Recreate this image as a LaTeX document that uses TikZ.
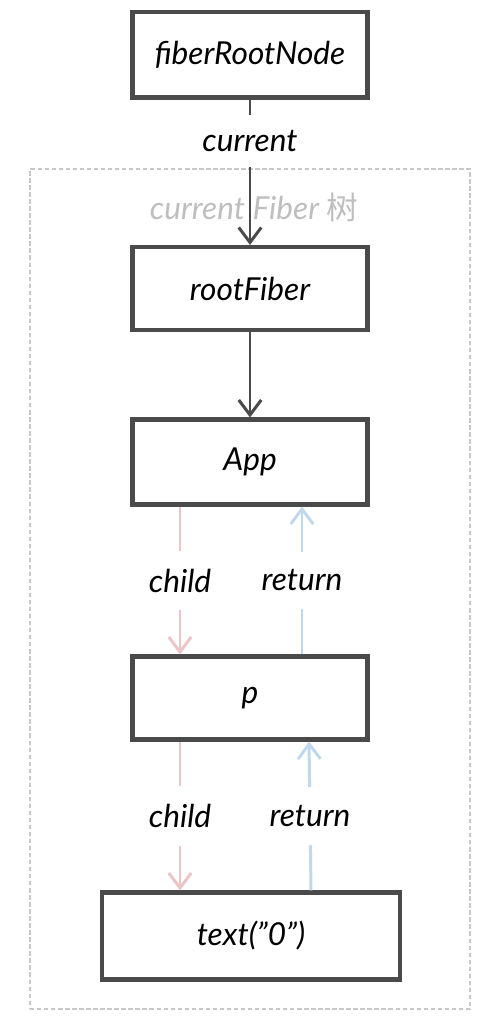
\documentclass[tikz,border=0pt]{standalone}
\usepackage{fontspec}
\setmainfont{Lato}
\newfontfamily\cjkfont{Noto Sans CJK SC}
\usetikzlibrary{positioning,arrows.meta,backgrounds}
\definecolor{cLine}{RGB}{74,74,74}
\definecolor{cFrame}{RGB}{200,200,200}
\definecolor{cLabel}{RGB}{190,190,190}
\definecolor{eChild}{RGB}{236,198,198}
\definecolor{eReturn}{RGB}{192,216,238}
\tikzset{
  fnode/.style  ={draw=cLine,line width=2.3pt,fill=white,align=center,
                  font=\fontsize{18}{21}\selectfont\itshape,
                  minimum width=47mm,minimum height=17mm,inner sep=2pt},
  container/.style={draw=cFrame,dashed,dash pattern=on 2.5pt off 1.5pt,
                  line width=1.2pt,minimum width=88mm,minimum height=168mm},
  ptr/.style    ={-{Straight Barb[length=3mm,width=4.5mm]},draw=cLine,line width=1.7pt},
  ptrchild/.style ={-{Straight Barb[length=3mm,width=4.5mm]},draw=eChild,line width=1.7pt},
  ptrreturn/.style={-{Straight Barb[length=3mm,width=4.5mm]},draw=eReturn,line width=1.7pt},
  lbl/.style    ={font=\fontsize{18}{21}\selectfont\itshape,fill=white,
                  inner xsep=2pt,inner ysep=0.36cm},
  treelbl/.style={font=\fontsize{18}{21}\selectfont\itshape,text=cLabel},
}
\begin{document}
\begin{tikzpicture}[x=1cm,y=1cm]
\useasboundingbox (0,0) rectangle (9.72,20.68);

\node[treelbl] (treename) at (5.08,16.54) {current Fiber {\upshape\cjkfont 树}};

\node[fnode] (root) at (5.0,19.58) {fiberRootNode};
\node[fnode,minimum height=16.6mm] (rf) at (5.0,14.91) {rootFiber};
\node[fnode] (app) at (5.0,11.44) {App};
\node[fnode,minimum height=16.6mm] (p) at (5.0,6.72) {p};
\node[fnode,minimum width=59.6mm,minimum height=17.4mm] (txt) at (5.02,1.96)
 {text(\symbol{34}0\symbol{34})};

\draw[ptr] (root) -- node[lbl,pos=0.285,inner ysep=0.31cm]{current} (rf);
\draw[ptr] (rf) -- (app);

\draw[ptrchild]  ([xshift=-1.4cm]app.south) -- node[lbl]{child} ([xshift=-1.4cm]p.north);
\draw[ptrreturn] ([xshift=1.04cm]p.north) -- node[lbl]{return} ([xshift=1.04cm]app.south);
\draw[ptrchild]  ([xshift=-1.4cm]p.south) -- node[lbl]{child} ([xshift=-1.42cm]txt.north);
\draw[ptrreturn] ([xshift=1.2cm]txt.north) -- node[lbl]{return} ([xshift=1.18cm]p.south);

\begin{scope}[on background layer]
\node[container] (tree) at (5.0,8.9) {};
\end{scope}

\end{tikzpicture}
\end{document}
